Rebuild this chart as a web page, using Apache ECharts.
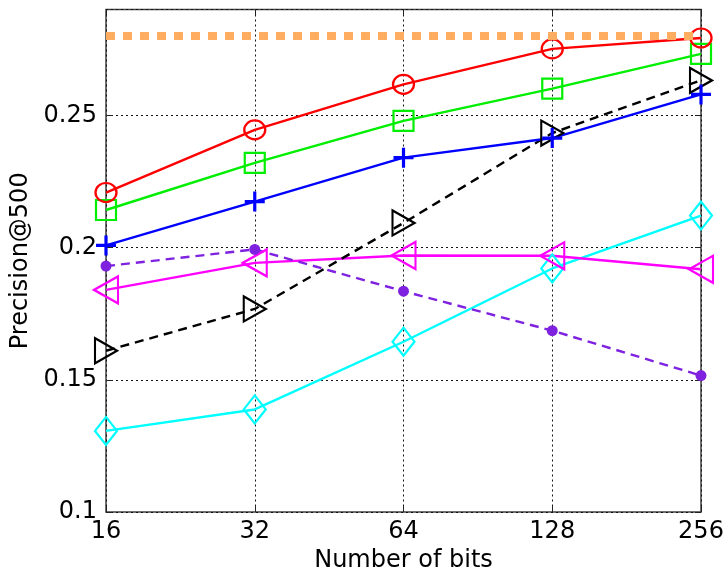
<!DOCTYPE html>
<html>
<head>
<meta charset="utf-8">
<script src="https://cdn.jsdelivr.net/npm/echarts@6/dist/echarts.min.js"></script>
<style>html,body{margin:0;padding:0;background:#fff}#c{width:727px;height:578px}</style>
</head>
<body>
<div id="c"></div>
<script>
var bits = ['16', '32', '64', '128', '256'];
var yTicks = [0.1, 0.15, 0.2, 0.25];
var redCircle = [0.2208, 0.2445, 0.2617, 0.2751, 0.2792];
var greenSquare = [0.2142, 0.2320, 0.2479, 0.2601, 0.2732];
var bluePlus = [0.2008, 0.2174, 0.2340, 0.2414, 0.2579];
var blackTriangle = [0.1610, 0.1768, 0.2093, 0.2433, 0.2632];
var purpleDot = [0.1930, 0.1993, 0.1835, 0.1686, 0.1516];
var magentaTriangle = [0.1840, 0.1942, 0.1970, 0.1969, 0.1918];
var cyanDiamond = [0.1307, 0.1388, 0.1644, 0.1921, 0.2121];
var orangeLevel = 0.2816;

var FONT = 'DejaVu Sans';
var plusPath = 'path://M0,8.4H20V11.6H0Z M8.4,0H11.6V20H8.4Z';
var LW = 2.4;

function hollow(name, data, color, symbol, size, rotate, dash) {
  return {
    name: name, type: 'line', data: data,
    symbol: symbol, symbolSize: size, symbolRotate: rotate || 0,
    showSymbol: true,
    lineStyle: { color: color, width: LW, type: dash || 'solid' },
    itemStyle: { color: 'rgba(0,0,0,0)', borderColor: color, borderWidth: 2.2 },
    emphasis: { disabled: true },
    z: 3
  };
}

var tickStyle = { show: true, inside: true, length: 6, lineStyle: { color: '#222', width: 1 } };
var gridLine = { show: true, lineStyle: { color: '#111', width: 1, type: [2, 3] } };

var chart = echarts.init(document.getElementById('c'), null, { renderer: 'canvas' });
chart.setOption({
  animation: false,
  backgroundColor: '#fff',
  grid: { left: 106, right: 26, top: 9.5, bottom: 62, show: true, borderColor: '#404040', borderWidth: 1.5, backgroundColor: 'transparent' },
  xAxis: [{
    type: 'category', data: bits, boundaryGap: false,
    name: 'Number of bits', nameLocation: 'middle', nameGap: 36,
    nameTextStyle: { fontFamily: FONT, fontSize: 24, color: '#000' },
    axisLine: { show: false },
    axisTick: tickStyle,
    axisLabel: { fontFamily: FONT, fontSize: 24, color: '#000', margin: 8 },
    splitLine: gridLine
  }, {
    type: 'category', data: bits, boundaryGap: false, position: 'top',
    axisLine: { show: false }, axisTick: tickStyle,
    axisLabel: { show: false }, splitLine: { show: false }
  }],
  yAxis: [{
    type: 'value', min: 0.1, max: 0.29, interval: 0.05,
    name: 'Precision@500', nameLocation: 'middle', nameGap: 70, nameRotate: 90,
    nameTextStyle: { fontFamily: FONT, fontSize: 24, color: '#000' },
    axisLine: { show: false },
    axisTick: tickStyle,
    axisLabel: {
      fontFamily: FONT, fontSize: 24, color: '#000', margin: 9, showMaxLabel: false,
      formatter: function (v) {
        for (var i = 0; i < yTicks.length; i++) if (Math.abs(v - yTicks[i]) < 1e-9) return String(yTicks[i]);
        return '';
      }
    },
    splitLine: gridLine
  }, {
    type: 'value', min: 0.1, max: 0.29, interval: 0.05, position: 'right',
    axisLine: { show: false }, axisTick: tickStyle,
    axisLabel: { show: false }, splitLine: { show: false }
  }],
  series: [
    {
      name: 'baseline', type: 'line', data: [], silent: true,
      markLine: {
        silent: true, symbol: 'none', label: { show: false },
        lineStyle: { color: '#ffad60', width: 8, type: [9, 8] },
        data: [{ yAxis: orangeLevel }]
      },
      z: 2
    },
    hollow('cyan', cyanDiamond, '#00ffff', 'diamond', [22, 28]),
    hollow('magenta', magentaTriangle, '#ff00ff', 'triangle', [27, 24], 90),
    {
      name: 'purple', type: 'line', data: purpleDot,
      symbol: 'circle', symbolSize: 11,
      lineStyle: { color: '#7f22e0', width: LW, type: [9, 6] },
      itemStyle: { color: '#7f22e0' },
      emphasis: { disabled: true }, z: 3
    },
    hollow('black', blackTriangle, '#000000', 'triangle', [25, 22], -90, [9, 6]),
    {
      name: 'blue', type: 'line', data: bluePlus,
      symbol: plusPath, symbolSize: 20,
      lineStyle: { color: '#0000ff', width: LW },
      itemStyle: { color: '#0000ff' },
      emphasis: { disabled: true }, z: 3
    },
    hollow('green', greenSquare, '#00ee00', 'rect', 20),
    hollow('red', redCircle, '#ff0000', 'circle', [21, 19])
  ]
});
</script>
</body>
</html>
